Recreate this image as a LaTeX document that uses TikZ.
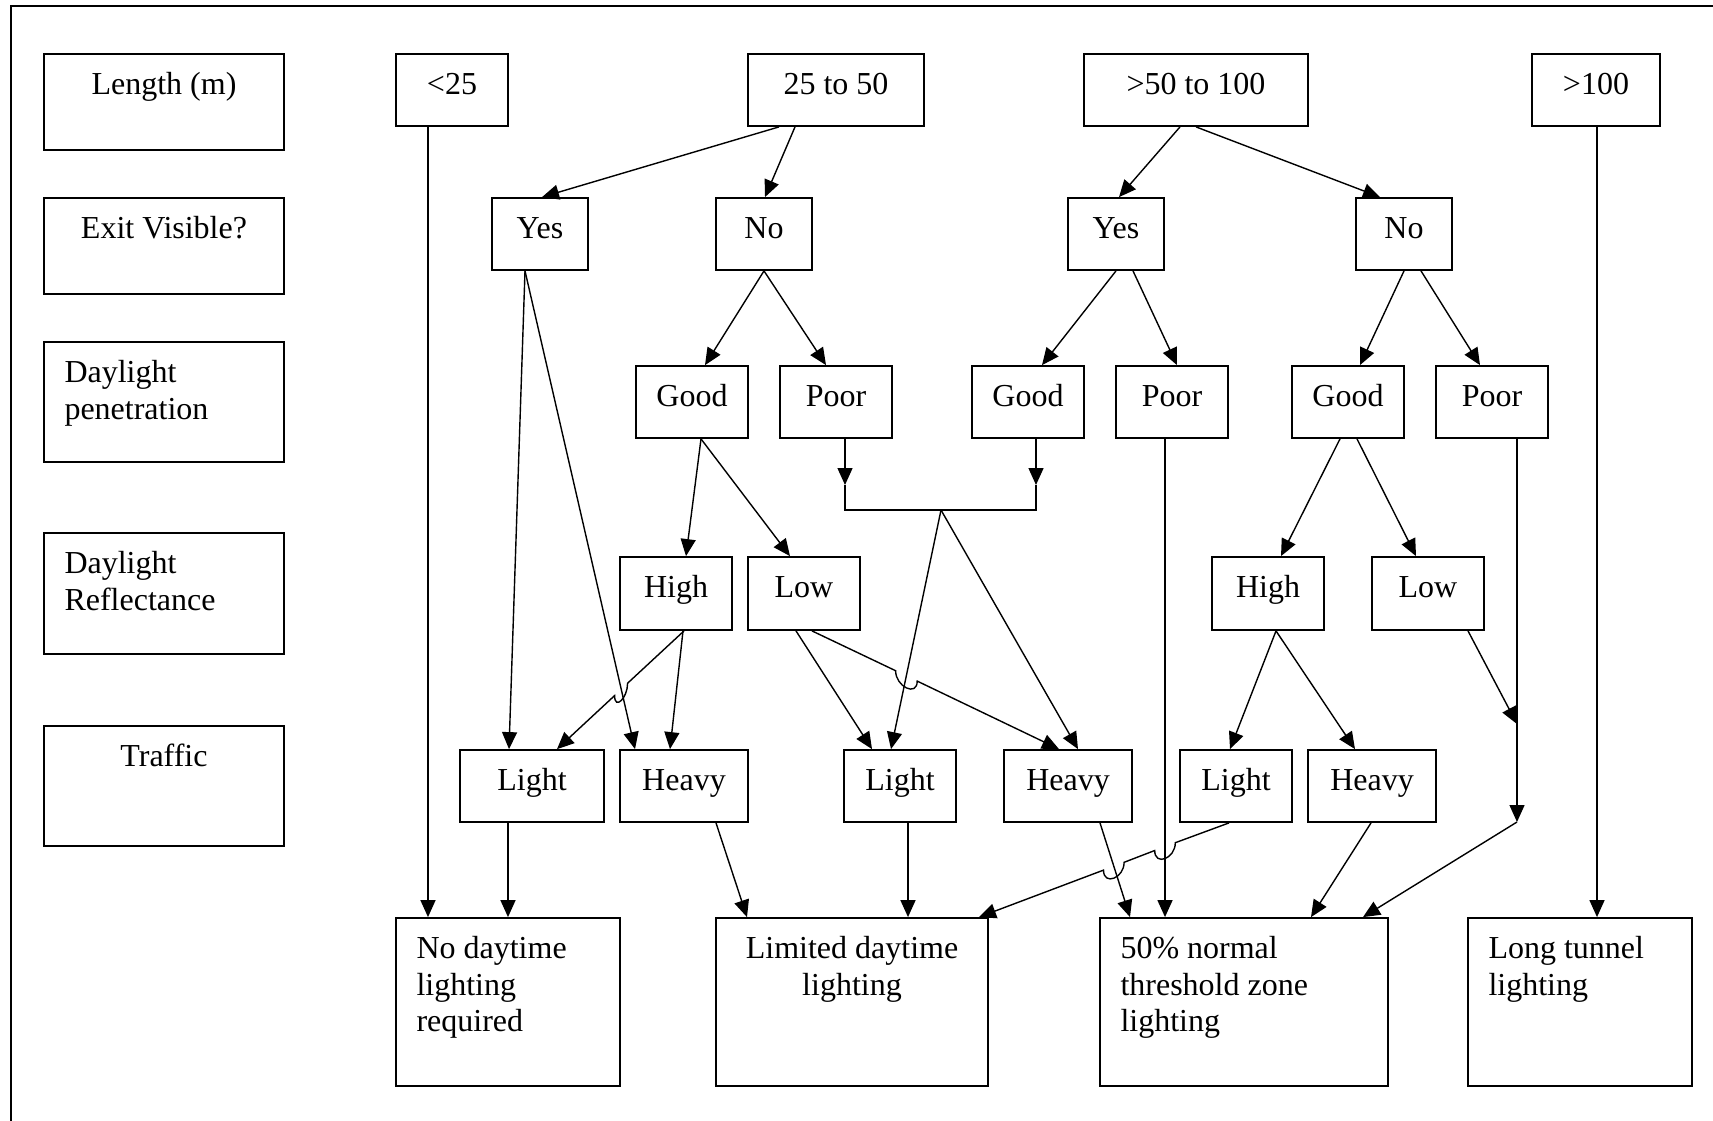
\documentclass[tikz,border=0pt]{standalone}
\usepackage{fontspec}
\setmainfont{Liberation Serif}
\usetikzlibrary{arrows.meta,calc,fit}
\begin{document}
\begin{tikzpicture}[x=0.5pt,y=-0.5pt,
  box/.style={draw,rectangle,inner sep=0pt,line width=0.9pt},
  tc/.style={anchor=north,inner sep=0pt,font=\fontsize{16}{18.4}\selectfont,align=center,yshift=-7.5pt},
  tl/.style={anchor=north west,inner sep=0pt,font=\fontsize{16}{18.4}\selectfont,align=left,yshift=-7.5pt,xshift=10.5pt},
  ar/.style={line width=0.7pt,-{Triangle[length=8.5pt,width=7.5pt]}},
  ln/.style={line width=0.7pt}]
\useasboundingbox (0,0) rectangle (1713,1120);
\fill[white] (0,0) rectangle (1713,1120);
\draw[line width=0.9pt] (11,1125) -- (11,6) -- (1720,6);

% header column
\node[box,fit={(44,54) (284,150)}] (hLen) {};
\node[tc] (hLen-t) at (hLen.north) {\strut Length (m)};
\node[box,fit={(44,198) (284,294)}] (hExit) {};
\node[tc] (hExit-t) at (hExit.north) {\strut Exit Visible?};
\node[box,fit={(44,342) (284,462)}] (hPen) {};
\node[tl] (hPen-t) at (hPen.north west) {\strut Daylight\\penetration};
\node[box,fit={(44,533) (284,654)}] (hRef) {};
\node[tl] (hRef-t) at (hRef.north west) {\strut Daylight\\Reflectance};
\node[box,fit={(44,726) (284,846)}] (hTra) {};
\node[tc] (hTra-t) at (hTra.north) {\strut Traffic};

% row 1
\node[box,fit={(396,54) (508,126)}] (lt25) {};
\node[tc] (lt25-t) at (lt25.north) {\strut <25};
\node[box,fit={(748,54) (924,126)}] (l2550) {};
\node[tc] (l2550-t) at (l2550.north) {\strut 25 to 50};
\node[box,fit={(1084,54) (1308,126)}] (l50100) {};
\node[tc] (l50100-t) at (l50100.north) {\strut >50 to 100};
\node[box,fit={(1532,54) (1660,126)}] (lgt100) {};
\node[tc] (lgt100-t) at (lgt100.north) {\strut >100};

% row 2
\node[box,fit={(492,198) (588,270)}] (yes1) {};
\node[tc] (yes1-t) at (yes1.north) {\strut Yes};
\node[box,fit={(716,198) (812,270)}] (no1) {};
\node[tc] (no1-t) at (no1.north) {\strut No};
\node[box,fit={(1068,198) (1164,270)}] (yes2) {};
\node[tc] (yes2-t) at (yes2.north) {\strut Yes};
\node[box,fit={(1356,198) (1452,270)}] (no2) {};
\node[tc] (no2-t) at (no2.north) {\strut No};

% row 3
\node[box,fit={(636,366) (748,438)}] (good1) {};
\node[tc] (good1-t) at (good1.north) {\strut Good};
\node[box,fit={(780,366) (892,438)}] (poor1) {};
\node[tc] (poor1-t) at (poor1.north) {\strut Poor};
\node[box,fit={(972,366) (1084,438)}] (good2) {};
\node[tc] (good2-t) at (good2.north) {\strut Good};
\node[box,fit={(1116,366) (1228,438)}] (poor2) {};
\node[tc] (poor2-t) at (poor2.north) {\strut Poor};
\node[box,fit={(1292,366) (1404,438)}] (good3) {};
\node[tc] (good3-t) at (good3.north) {\strut Good};
\node[box,fit={(1436,366) (1548,438)}] (poor3) {};
\node[tc] (poor3-t) at (poor3.north) {\strut Poor};

% row 4
\node[box,fit={(620,557) (732,630)}] (high1) {};
\node[tc] (high1-t) at (high1.north) {\strut High};
\node[box,fit={(748,557) (860,630)}] (low1) {};
\node[tc] (low1-t) at (low1.north) {\strut Low};
\node[box,fit={(1212,557) (1324,630)}] (high2) {};
\node[tc] (high2-t) at (high2.north) {\strut High};
\node[box,fit={(1372,557) (1484,630)}] (low2) {};
\node[tc] (low2-t) at (low2.north) {\strut Low};

% row 5
\node[box,fit={(460,750) (604,822)}] (light1) {};
\node[tc] (light1-t) at (light1.north) {\strut Light};
\node[box,fit={(620,750) (748,822)}] (heavy1) {};
\node[tc] (heavy1-t) at (heavy1.north) {\strut Heavy};
\node[box,fit={(844,750) (956,822)}] (light2) {};
\node[tc] (light2-t) at (light2.north) {\strut Light};
\node[box,fit={(1004,750) (1132,822)}] (heavy2) {};
\node[tc] (heavy2-t) at (heavy2.north) {\strut Heavy};
\node[box,fit={(1180,750) (1292,822)}] (light3) {};
\node[tc] (light3-t) at (light3.north) {\strut Light};
\node[box,fit={(1308,750) (1436,822)}] (heavy3) {};
\node[tc] (heavy3-t) at (heavy3.north) {\strut Heavy};

% row 6
\node[box,fit={(396,918) (620,1086)}] (out1) {};
\node[tl] (out1-t) at (out1.north west) {\strut No daytime\\lighting\\required};
\node[box,fit={(716,918) (988,1086)}] (out2) {};
\node[tc] (out2-t) at (out2.north) {\strut Limited daytime\\lighting};
\node[box,fit={(1100,918) (1388,1086)}] (out3) {};
\node[tl] (out3-t) at (out3.north west) {\strut 50\% normal\\threshold zone\\lighting};
\node[box,fit={(1468,918) (1692,1086)}] (out4) {};
\node[tl] (out4-t) at (out4.north west) {\strut Long tunnel\\lighting};

% junction coordinates
\coordinate (m1) at (845,485);
\coordinate (m2) at (1036,485);
\coordinate (b1) at (845,510);
\coordinate (b2) at (1036,510);
\coordinate (mg) at (941,510);
\coordinate (j1) at (1517,724);
\coordinate (j2) at (1517,822);

% level 1 -> 2
\draw[ar] ($(l2550.south)+(-57,0)$) -- ($(yes1.north)+(2,0)$);
\draw[ar] ($(l2550.south)+(-41,0)$) -- ($(no1.north)+(1,0)$);
\draw[ar] ($(l50100.south)+(-16,0)$) -- ($(yes2.north)+(3,0)$);
\draw[ar] (l50100.south) -- ($(no2.north)+(-24,0)$);
% level 2 -> 3
\draw[ar] (no1.south) -- ($(good1.north)+(13,0)$);
\draw[ar] (no1.south) -- ($(poor1.north)+(-10,0)$);
\draw[ar] (yes2.south) -- ($(good2.north)+(14,0)$);
\draw[ar] ($(yes2.south)+(17,0)$) -- ($(poor2.north)+(5,0)$);
\draw[ar] (no2.south) -- ($(good3.north)+(12,0)$);
\draw[ar] ($(no2.south)+(17,0)$) -- ($(poor3.north)+(-12,0)$);
% level 3 -> 4
\draw[ar] ($(good1.south)+(9,0)$) -- ($(high1.north)+(10,0)$);
\draw[ar] ($(good1.south)+(9,0)$) -- ($(low1.north)+(-14,0)$);
\draw[ar] ($(good3.south)+(-8,0)$) -- ($(high2.north)+(13,0)$);
\draw[ar] ($(good3.south)+(9,0)$) -- ($(low2.north)+(-12,0)$);
% merge of poor1 and good2
\draw[ar] ($(poor1.south)+(9,0)$) -- (m1);
\draw[ar] ($(good2.south)+(8,0)$) -- (m2);
\draw[ln] (m1) -- (b1) -- (b2) -- (m2);
\draw[ar] (mg) -- ($(light2.north)+(-9,0)$);
\draw[ar] (mg) -- ($(heavy2.north)+(10,0)$);
% yes1
\draw[ar] ($(yes1.south)+(-15,0)$) -- ($(light1.north)+(-23,0)$);
\draw[ar] ($(yes1.south)+(-15,0)$) -- ($(heavy1.north)+(-49,0)$);
% level 4 -> 5
\draw[ar] ($(high1.south)+(8,0)$) -- (627.6,683.2) .. controls (627.6,698.2) and (614.6,710.6) .. (614.6,695.6) -- ($(light1.north)+(25,0)$);
\draw[ar] ($(high1.south)+(7,0)$) -- ($(heavy1.north)+(-14,0)$);
\draw[ar] ($(low1.south)+(-8,0)$) -- ($(light2.north)+(-28,0)$);
\draw[ar] ($(low1.south)+(8,0)$) -- (895.6,670.7) .. controls (895.6,686.7) and (917.2,697.1) .. (917.2,681.1) -- ($(heavy2.north)+(-9,0)$);
\draw[ar] ($(high2.south)+(8,0)$) -- ($(light3.north)+(-6,0)$);
\draw[ar] ($(high2.south)+(8,0)$) -- ($(heavy3.north)+(-17,0)$);
\draw[ar] ($(low2.south)+(40,0)$) -- (j1);
\draw[ar] ($(poor3.south)+(25,0)$) -- (j2);
% level 5 -> 6
\draw[ar] ($(lt25.south)+(-24,0)$) -- ($(out1.north)+(-80,0)$);
\draw[ar] ($(light1.south)+(-24,0)$) -- (out1.north);
\draw[ar] ($(heavy1.south)+(32,0)$) -- ($(out2.north)+(-105,0)$);
\draw[ar] ($(light2.south)+(8,0)$) -- ($(out2.north)+(56,0)$);
\draw[ar] ($(light3.south)+(-7,0)$) -- (1175.3,842.7) .. controls (1175.3,858.7) and (1154.7,866.5) .. (1154.7,850.5) -- (1124.1,862.3) .. controls (1124.1,878.3) and (1103.5,886.1) .. (1103.5,870.1) -- ($(out2.north)+(127,0)$);
\draw[ar] ($(heavy2.south)+(32,0)$) -- ($(out3.north)+(-114,0)$);
\draw[ar] ($(poor2.south)+(-7,0)$) -- ($(out3.north)+(-79,0)$);
\draw[ar] ($(heavy3.south)+(-1,0)$) -- ($(out3.north)+(67,0)$);
\draw[ar] (j2) -- ($(out3.north)+(119,0)$);
\draw[ar] ($(lgt100.south)+(1,0)$) -- ($(out4.north)+(17,0)$);
\end{tikzpicture}
\end{document}
